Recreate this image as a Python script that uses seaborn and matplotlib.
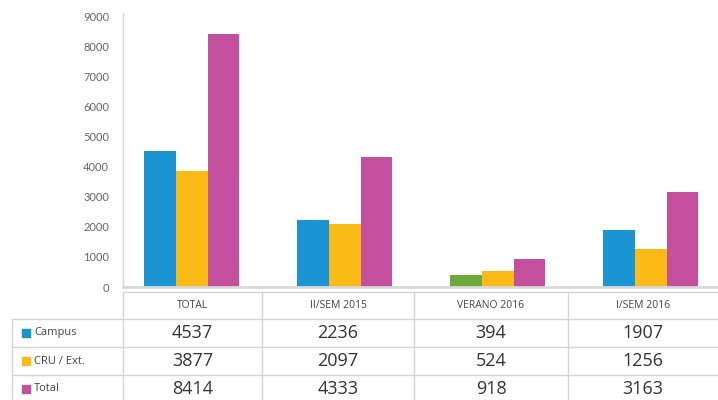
import matplotlib
matplotlib.use("Agg")
import matplotlib.pyplot as plt
import seaborn as sns
import pandas as pd

# ---------- data ----------
periods = ["TOTAL", "II/SEM 2015", "VERANO 2016", "I/SEM 2016"]
series = ["Campus", "CRU / Ext.", "Total"]
campus = [4537, 2236, 394, 1907]
cru_ext = [3877, 2097, 524, 1256]
total = [8414, 4333, 918, 3163]
yticks = [0, 1000, 2000, 3000, 4000, 5000, 6000, 7000, 8000, 9000]

colors = ["#1a94d2", "#fbbb17", "#c44f9c"]
verano_green = "#6aa93a"

df = pd.DataFrame({
    "Periodo": periods * 3,
    "Serie": [s for s in series for _ in periods],
    "Valor": campus + cru_ext + total,
})

sns.set_style("white")
plt.rcParams["font.family"] = ["Lato", "DejaVu Sans"]
narrow = ["Liberation Sans Narrow", "Open Sans", "DejaVu Sans"]

W, H = 718, 400
fig = plt.figure(figsize=(W / 100, H / 100), dpi=100)

# ---------- bars ----------
ax = fig.add_axes([123 / W, (H - 287) / H, (718 - 123) / W, (287 - 13) / H])
sns.barplot(data=df, x="Periodo", y="Valor", hue="Serie", palette=colors,
            width=0.62, gap=0, saturation=1, legend=False, linewidth=0,
            ax=ax)
# the VERANO campus bar is drawn in green in the original
ax.containers[0][2].set_facecolor(verano_green)

ax.set_xlim(-0.45, 3.44)
ax.set_ylim(0, 9130)
ax.set_yticks(yticks)
ax.set_yticklabels([str(v) for v in yticks], color="#666666", fontsize=8)
ax.tick_params(axis="y", length=0, pad=10)
ax.set_xticks([])
ax.set_xlabel("")
ax.set_ylabel("")
for s in ["top", "right"]:
    ax.spines[s].set_visible(False)
ax.spines["left"].set_color("#d6d6d6")
ax.spines["left"].set_linewidth(1)
ax.spines["bottom"].set_color("#d9d9d9")
ax.spines["bottom"].set_linewidth(2)

# ---------- data table ----------
tb = fig.add_axes([0, 0, 1, 1], facecolor="none")
tb.set_xlim(0, W)
tb.set_ylim(H, 0)
tb.axis("off")

col_edges = [123, 262, 414, 568, 718]
row_edges = [292, 319, 347, 375, 402]
line_kw = dict(color="#d4d4d4", lw=1)

tb.plot([123, 718], [row_edges[0]] * 2, **line_kw)
for y in row_edges[1:]:
    tb.plot([12, 718], [y, y], **line_kw)
tb.plot([12, 12], [row_edges[1], H], **line_kw)
for x in col_edges[:-1]:
    tb.plot([x, x], [row_edges[0], H], **line_kw)

centers = [(a + b) / 2 for a, b in zip(col_edges[:-1], col_edges[1:])]
hdr_y = (row_edges[0] + row_edges[1]) / 2
for cx, p in zip(centers, periods):
    tb.text(cx, hdr_y, p, ha="center", va="center", fontsize=7.5,
            color="#444444", family=narrow)

for i, (name, vals) in enumerate(zip(series, [campus, cru_ext, total])):
    cy = (row_edges[i + 1] + row_edges[i + 2]) / 2
    tb.add_patch(plt.Rectangle((22, cy - 4), 8, 8, color=colors[i]))
    tb.text(34, cy, name, ha="left", va="center", fontsize=8,
            color="#444444", family=narrow)
    for cx, v in zip(centers, vals):
        tb.text(cx, cy, str(v), ha="center", va="center", fontsize=13,
                color="#333333", family=narrow)

fig.savefig("out.png", dpi=100)
